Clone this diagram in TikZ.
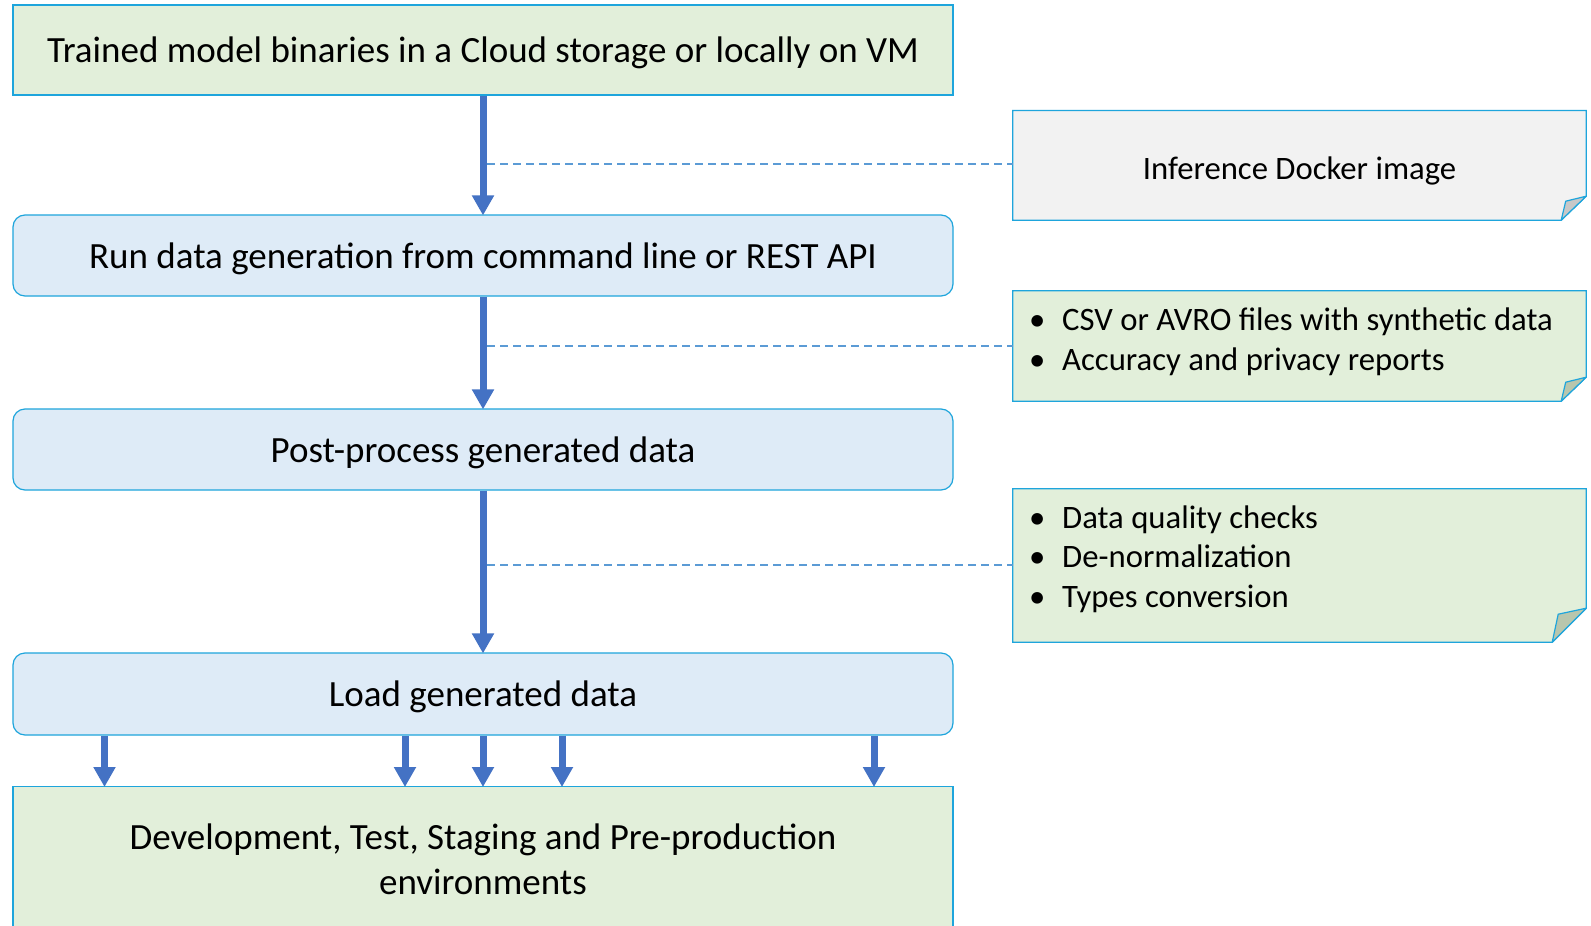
\documentclass[tikz,border=0pt]{standalone}
\usepackage{fontspec}
\setmainfont{Carlito}
\usetikzlibrary{arrows.meta}
\definecolor{boxgreen}{HTML}{E2EFDA}
\definecolor{boxblue}{HTML}{DEEBF7}
\definecolor{notegray}{HTML}{F2F2F2}
\definecolor{edgecyan}{HTML}{1EA5DC}
\definecolor{arrowblue}{HTML}{4472C4}
\definecolor{dashblue}{HTML}{5B9BD5}
\definecolor{foldgray}{HTML}{C8C8C8}
\definecolor{foldgreen}{HTML}{B8C6AD}
\newcommand{\dropby}[1]{\raisebox{-3pt}[\height][\depth]{#1}}
\tikzset{
  mainbox/.style={draw=edgecyan, line width=1.2pt, inner sep=0pt, font=\fontsize{37}{44.6}\selectfont, align=center},
  flowarrow/.style={draw=arrowblue, line width=7pt, -{Triangle[width=21pt,length=20pt]}, shorten >=-1pt},
  noteline/.style={draw=dashblue, line width=1.5pt, dash pattern=on 8pt off 5pt},
  noteedge/.style={draw=edgecyan, line width=1.2pt},
  notetext/.style={font=\fontsize{32.7}{39.5}\selectfont, align=left, inner sep=0pt, anchor=west}
}
\begin{document}
\begin{tikzpicture}[x=1pt,y=-1pt]
\clip (0,0) rectangle (1591,926);
\fill[white] (0,0) rectangle (1591,926);

% main boxes
\node[mainbox, fill=boxgreen, minimum width=940pt, minimum height=90pt] (top) at (483,50) {\dropby{Trained model binaries in a Cloud storage or locally on VM}};
\node[mainbox, fill=boxblue, rounded corners=12pt, minimum width=940pt, minimum height=81pt] (run) at (483,255.5) {\dropby{Run data generation from command line or REST API}};
\node[mainbox, fill=boxblue, rounded corners=12pt, minimum width=940pt, minimum height=81pt] (post) at (483,449.5) {\dropby{Post-process generated data}};
\node[mainbox, fill=boxblue, rounded corners=12pt, minimum width=940pt, minimum height=82pt] (load) at (483,694) {\dropby{Load generated data}};
\node[mainbox, fill=boxgreen, minimum width=940pt, minimum height=160pt, anchor=north] (env) at (483,786) {};
\node[font=\fontsize{37}{44.6}\selectfont, align=center] (envtext) at (483,859.5) {Development, Test, Staging and Pre-production\\environments};

% notes (placeholders for anchors)
\node[minimum width=573pt, minimum height=109.4pt, inner sep=0pt] (n1) at (1299.5,165.3) {};
\node[minimum width=573pt, minimum height=110pt, inner sep=0pt] (n2) at (1299.5,346) {};
\node[minimum width=573pt, minimum height=153pt, inner sep=0pt] (n3) at (1299.5,565.5) {};

% note 1 outline
\filldraw[noteedge, fill=notegray] (n1.north west) -- (n1.north east) -- ([yshift=24pt]n1.south east) -- ([xshift=-25pt]n1.south east) -- (n1.south west) -- cycle;
\filldraw[noteedge, fill=foldgray, line join=round] ([yshift=24pt]n1.south east) -- ([xshift=-20.5pt,yshift=19pt]n1.south east) -- ([xshift=-25pt]n1.south east) -- cycle;
% note 2 outline
\filldraw[noteedge, fill=boxgreen] (n2.north west) -- (n2.north east) -- ([yshift=24pt]n2.south east) -- ([xshift=-25pt]n2.south east) -- (n2.south west) -- cycle;
\filldraw[noteedge, fill=foldgreen, line join=round] ([yshift=24pt]n2.south east) -- ([xshift=-20.5pt,yshift=19pt]n2.south east) -- ([xshift=-25pt]n2.south east) -- cycle;
% note 3 outline
\filldraw[noteedge, fill=boxgreen] (n3.north west) -- (n3.north east) -- ([yshift=34pt]n3.south east) -- ([xshift=-34pt]n3.south east) -- (n3.south west) -- cycle;
\filldraw[noteedge, fill=foldgreen, line join=round] ([yshift=34pt]n3.south east) -- ([xshift=-28pt,yshift=28pt]n3.south east) -- ([xshift=-34pt]n3.south east) -- cycle;

% note texts
\node[font=\fontsize{32.7}{39.5}\selectfont, inner sep=0pt] (t1) at (1299.5,171) {Inference Docker image};
\node[notetext] (t2) at (1029,342) {\makebox[33pt][l]{•}CSV or AVRO files with synthetic data\\\makebox[33pt][l]{•}Accuracy and privacy reports};
\node[notetext] (t3) at (1029,559) {\makebox[33pt][l]{•}Data quality checks\\\makebox[33pt][l]{•}De-normalization\\\makebox[33pt][l]{•}Types conversion};

% dashed connectors
\coordinate (d1) at (487,164);
\coordinate (d2) at (487,346);
\coordinate (d3) at (487,565);
\draw[noteline] (d1) -- (d1 -| n1.west);
\draw[noteline] (d2) -- (d2 -| n2.west);
\draw[noteline] (d3) -- (d3 -| n3.west);

% flow arrows
\draw[flowarrow] (top.south) -- (run.north);
\draw[flowarrow] (run.south) -- (post.north);
\draw[flowarrow] (post.south) -- (load.north);
\foreach \xx in {104.5,405,483,562,874}{
  \draw[flowarrow] (load.south -| \xx,0) -- (env.north -| \xx,0);
}
\end{tikzpicture}
\end{document}
